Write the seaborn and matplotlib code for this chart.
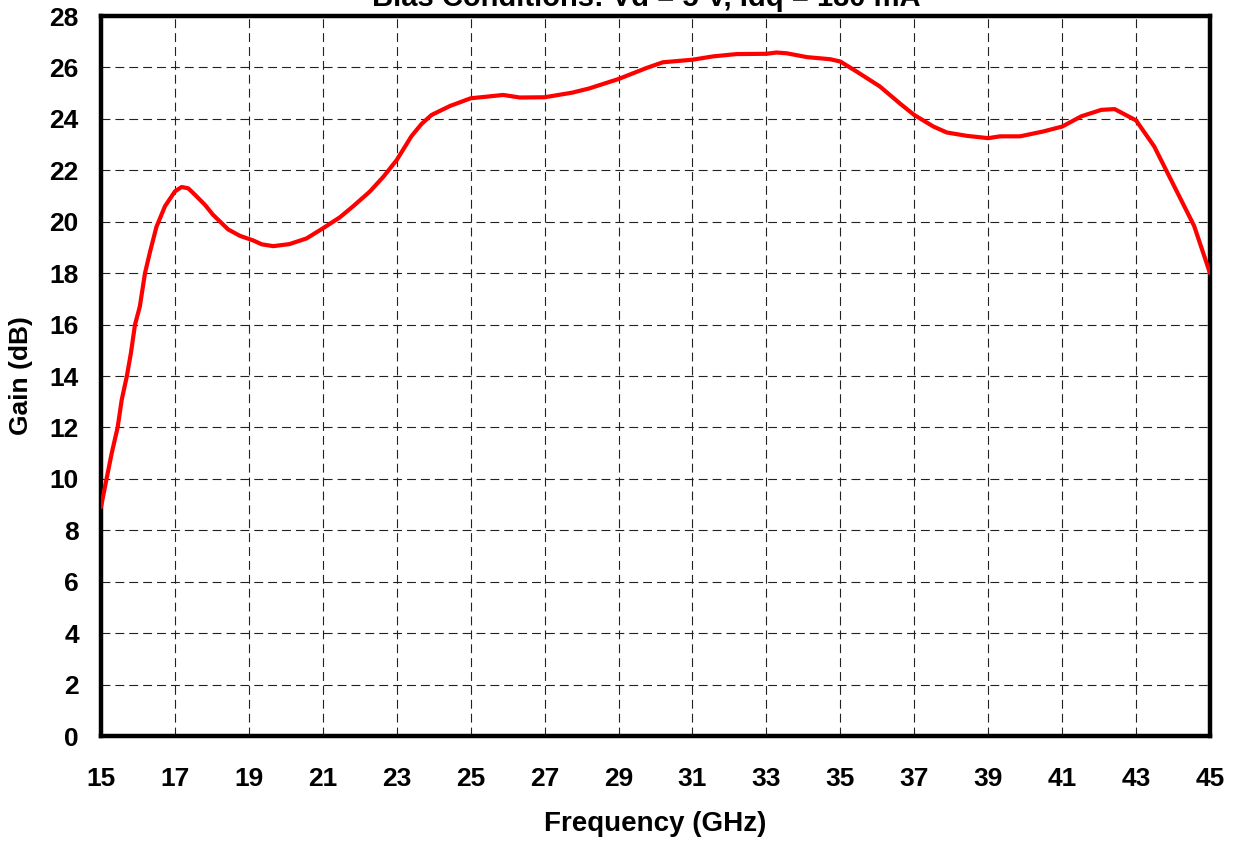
import matplotlib
matplotlib.use("Agg")
import matplotlib.pyplot as plt
import seaborn as sns
import pandas as pd

# ---- data ----
freq_ghz = [15.0, 15.15, 15.29, 15.45, 15.56, 15.70, 15.81, 15.92, 16.05, 16.19,
            16.33, 16.5, 16.73, 17.0, 17.18, 17.36, 17.54, 17.81, 18.03, 18.44,
            18.76, 19.12, 19.35, 19.66, 20.1, 20.56, 21.0, 21.46, 21.82, 22.27,
            22.64, 23.0, 23.4, 23.67, 23.94, 24.44, 25.0, 25.48, 25.88, 26.33,
            27.0, 27.75, 28.2, 29.0, 29.76, 30.2, 31.0, 31.56, 32.2, 33.0,
            33.27, 33.55, 34.1, 34.72, 35.0, 35.44, 36.07, 36.61, 37.0, 37.52,
            37.88, 38.42, 39.0, 39.32, 39.86, 40.49, 41.0, 41.52, 42.06, 42.42,
            43.0, 43.49, 43.85, 44.21, 44.57, 45.0]
gain_db = [8.9, 10.0, 11.0, 12.0, 13.07, 14.0, 14.9, 16.0, 16.7, 18.0,
           18.85, 19.8, 20.6, 21.18, 21.35, 21.3, 21.05, 20.66, 20.27, 19.7,
           19.45, 19.27, 19.12, 19.05, 19.13, 19.35, 19.74, 20.17, 20.6, 21.17,
           21.75, 22.4, 23.33, 23.8, 24.15, 24.5, 24.8, 24.87, 24.93, 24.83,
           24.84, 25.02, 25.18, 25.55, 25.98, 26.2, 26.3, 26.43, 26.52, 26.53,
           26.58, 26.55, 26.4, 26.32, 26.23, 25.84, 25.26, 24.6, 24.15, 23.7,
           23.47, 23.34, 23.25, 23.32, 23.32, 23.51, 23.7, 24.1, 24.35, 24.38,
           23.94, 22.93, 21.9, 20.87, 19.84, 18.0]
x_ticks = list(range(15, 46, 2))
y_ticks = list(range(0, 29, 2))
title_text = "Bias Conditions: Vd = 5 V, Idq = 180 mA"
x_label = "Frequency (GHz)"
y_label = "Gain (dB)"

df = pd.DataFrame({"freq": freq_ghz, "gain": gain_db})

sns.set_style("white")
plt.rcParams["font.family"] = ["Liberation Sans", "DejaVu Sans"]
plt.rcParams["font.weight"] = "bold"
plt.rcParams["text.color"] = "black"
plt.rcParams["axes.labelcolor"] = "black"
plt.rcParams["xtick.color"] = "black"
plt.rcParams["ytick.color"] = "black"

fig = plt.figure(figsize=(12.35, 8.41), dpi=100)
ax = fig.add_axes([101 / 1235, 1 - 736 / 841, (1210 - 101) / 1235, (736 - 16) / 841])

sns.lineplot(data=df, x="freq", y="gain", ax=ax, color="#ff0000", linewidth=3.0,
             clip_on=True, zorder=3)

ax.set_xlim(15, 45)
ax.set_ylim(0, 28)
ax.set_xticks(x_ticks)
ax.set_yticks(y_ticks)
ax.set_xticklabels([str(t) for t in x_ticks], fontsize=19, fontweight="bold")
ax.set_yticklabels([str(t) for t in y_ticks], fontsize=19, fontweight="bold")
ax.tick_params(axis="x", direction="out", length=6, width=0.8, pad=16, color="black",
               labelcolor="black")
ax.tick_params(axis="y", direction="out", length=6, width=0.8, pad=10, color="black",
               labelcolor="black")

ax.grid(True, which="major", color="#222222", linestyle=(0, (8, 4.5)), linewidth=0.8)
ax.set_axisbelow(True)

for sp in ax.spines.values():
    sp.set_visible(True)
    sp.set_color("black")
    sp.set_linewidth(3.2)

ax.set_xlabel(x_label, fontsize=20, fontweight="bold", labelpad=15, color="black")
ax.set_ylabel(y_label, fontsize=19, fontweight="bold", labelpad=12, color="black")

fig.text(646 / 1235, 1 - 6 / 841, title_text, ha="center", va="baseline",
         fontsize=21, fontweight="bold", color="black")

fig.savefig("out.png", dpi=100)
